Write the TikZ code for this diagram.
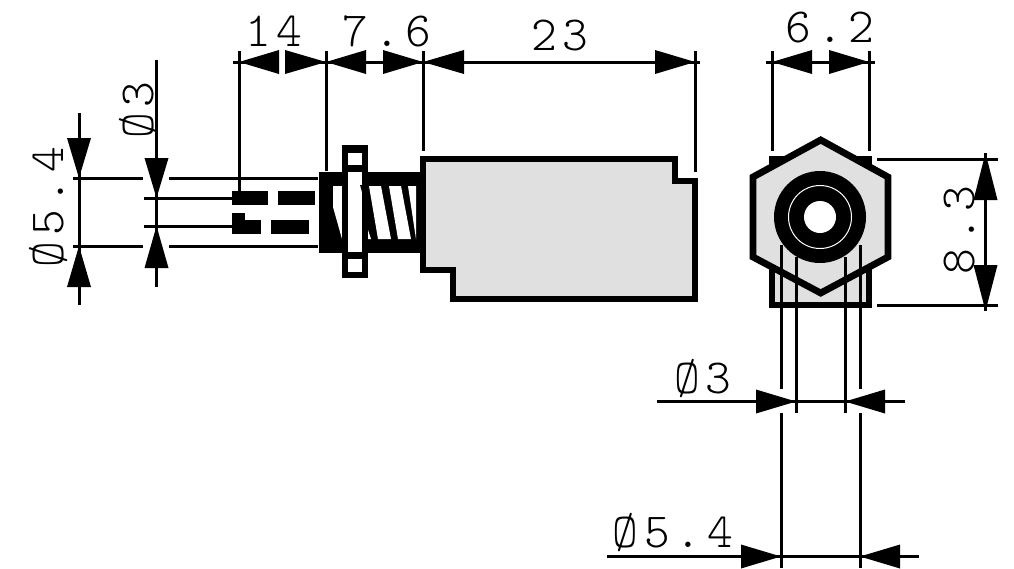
\documentclass[tikz,border=0pt]{standalone}
\usepackage{fontspec}
\newfontfamily\dimfont[LetterSpace=12]{Latin Modern Mono Light}
\tikzset{
  thinln/.style={line width=3pt},
  outln/.style={line width=6.8pt,line join=miter},
  dimtxt/.style={inner sep=0pt,font=\dimfont\fontsize{49}{49}\selectfont}
}
\newcommand{\harr}[3]{\fill[black] (#1,#3) -- (#2,#3-12) -- (#2,#3+12) -- cycle;}
\newcommand{\varr}[3]{\fill[black] (#1,#2) -- (#1-12,#3) -- (#1+12,#3) -- cycle;}
\begin{document}
\begin{tikzpicture}[x=1pt,y=-1pt]
\useasboundingbox (0,0) rectangle (1014,568);
\fill[white] (0,0) rectangle (1014,568);
\definecolor{bodygray}{HTML}{E0E0E0}

% --- side view: body
\draw[outln,fill=bodygray] (423,159) -- (675,159) -- (675,181) -- (695,181) -- (695,299) -- (453,299) -- (453,270) -- (423,270) -- cycle;
% threaded section
\fill[black] (366,172) rectangle (423,253);
\fill[white] (369,186) -- (381,186) -- (391,239) -- (378,239) -- cycle;
\fill[white] (389,186) -- (401,186) -- (411,239) -- (398,239) -- cycle;
\fill[white] (408,186) -- (416,186) -- (416,239) -- cycle;
\fill[white] (368,230) -- (371,239) -- (368,239) -- cycle;
% nut
\fill[black] (319,172) rectangle (343,253);
\fill[white] (333,186) -- (342,186) -- (342,239) -- (333,207) -- cycle;
% flange
\fill[black] (342,145) rectangle (368,278);
\fill[white] (348,153) rectangle (362,165);
\fill[white] (348,172) rectangle (362,252);
\fill[white] (348,259) rectangle (362,272);
\fill[black] (360,185) -- (362,185) -- (362,192) -- cycle;

% pins
\fill[black] (232,191) rectangle (268,205);
\fill[black] (278,191) rectangle (315,205);
\fill[black] (232,213) rectangle (245,234);
\fill[black] (232,220) rectangle (261,234);
\fill[black] (271,220) rectangle (309,234);

% left dimension extension lines
\draw[thinln] (73,178.5) -- (143,178.5);
\draw[thinln] (169,178.5) -- (318,178.5);
\draw[thinln] (73,246.5) -- (143,246.5);
\draw[thinln] (169,246.5) -- (318,246.5);
\draw[thinln] (144,198) -- (232,198);
\draw[thinln] (144,226.5) -- (232,226.5);
\draw[thinln] (79,113) -- (79,305);
\draw[thinln] (156.5,60) -- (156.5,287);
\varr{79}{178}{138}
\varr{79}{246}{287}
\varr{156.5}{198}{158}
\varr{156.5}{226}{268}

% top dimensions
\draw[thinln] (233,62) -- (700,62);
\draw[thinln] (239,51) -- (239,192);
\draw[thinln] (326,51) -- (326,171);
\draw[thinln] (423,51) -- (423,151);
\draw[thinln] (695,51) -- (695,172);
\fill[white] (279,48) rectangle (285,76);
\fill[white] (366,48) rectangle (383,58);
\fill[white] (366,66) rectangle (383,76);
\harr{239}{279}{62}
\harr{326}{285}{62}
\harr{326}{366}{62}
\harr{423}{383}{62}
\harr{423}{464}{62}
\harr{695}{655}{62}

% --- end view
\draw[line width=6pt,fill=bodygray] (772,159) rectangle (869,304.5);
\draw[outln,fill=bodygray] (820.7,140) -- (888,177) -- (888,257) -- (820.7,293) -- (753,257) -- (753,177) -- cycle;
\fill[black] (820,217) circle[radius=46];
\draw[white,line width=1pt] (820,217) circle[radius=31.5];
\fill[white] (820,217) circle[radius=16];

% end view dimensions
\draw[thinln] (772,51) -- (772,151);
\draw[thinln] (869,51) -- (869,151);
\draw[thinln] (766,62) -- (875,62);
\harr{772}{812}{62}
\harr{869}{829}{62}

\draw[thinln] (877,159.5) -- (998,159.5);
\draw[thinln] (877,305) -- (998,305);
\draw[thinln] (985.5,153) -- (985.5,311);
\varr{985.5}{153}{200}
\varr{985.5}{311}{265}

\draw[thinln] (781.5,245) -- (781.5,389);
\draw[thinln] (781.5,413) -- (781.5,568);
\draw[thinln] (860,245) -- (860,389);
\draw[thinln] (860,413) -- (860,568);
\draw[thinln] (796.7,257) -- (796.7,413);
\draw[thinln] (845,257) -- (845,413);
\draw[thinln] (657,401.5) -- (905,401.5);
\harr{796}{756}{401.5}
\harr{845}{885}{401.5}
\draw[thinln] (607,556.5) -- (919,556.5);
\harr{781}{741}{556.5}
\harr{860}{900}{556.5}

% --- labels
\node[dimtxt] (t14) at (274,31) {14};
\node[dimtxt] (t76) at (387,31) {7.6};
\node[dimtxt] (t23) at (560,36) {23};
\node[dimtxt] (t62) at (830,28) {6.2};
\node[dimtxt,rotate=90] (t83) at (960,230) {8.3};
\node[dimtxt,rotate=90] (t54l) at (49,207) {Ø5.4};
\node[dimtxt,rotate=90] (t3l) at (139,110) {Ø3};
\node[dimtxt] (t3r) at (703,379) {Ø3};
\node[dimtxt] (t54r) at (673,533) {Ø5.4};
\end{tikzpicture}
\end{document}
